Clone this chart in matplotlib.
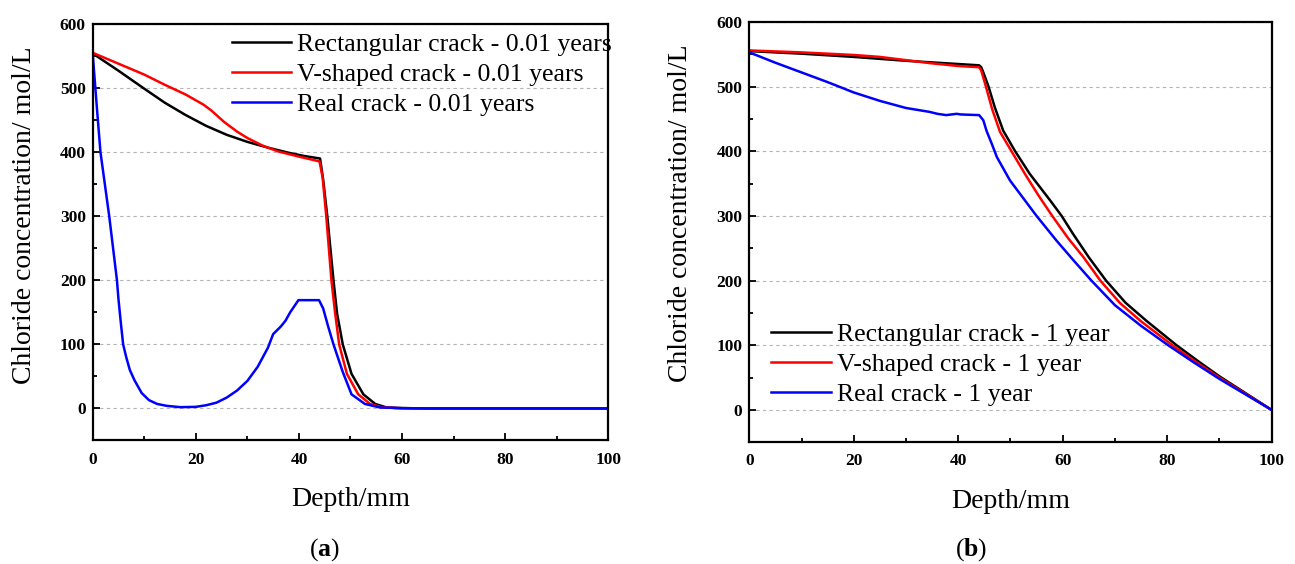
# -*- coding: utf-8 -*-
import matplotlib
matplotlib.use('Agg')
import matplotlib.pyplot as plt
from matplotlib.ticker import MultipleLocator

plt.rcParams['font.family'] = ['Liberation Serif', 'DejaVu Serif']
plt.rcParams['mathtext.fontset'] = 'custom'
plt.rcParams['mathtext.bf'] = 'Liberation Serif:bold'
plt.rcParams['mathtext.rm'] = 'Liberation Serif'

# --- (a) 0.01 years ---
rect_x_a = [0, 5, 10, 14, 18, 22, 26, 30, 34, 38, 41, 44.1, 44.7, 45.5, 46.7, 47.4, 48.5,
            50.2, 52.5, 54.8, 57, 60, 65, 100]
rect_y_a = [554, 527, 499, 477, 458, 441, 427, 416, 407, 399, 394, 390, 357, 300, 200, 148, 100,
            54, 22, 7, 1.5, 0.5, 0, 0]

v_x_a = [0, 5, 10, 14, 18, 21.5, 23, 25.5, 28, 30, 33, 36, 40, 44, 44.6, 45.3, 46.3, 47, 47.8,
         49.3, 51.5, 53.8, 56, 59, 65, 100]
v_y_a = [555, 538, 521, 505, 490, 474, 465, 447, 432, 422, 410, 401, 393, 385.5, 360, 300, 200,
         150, 100, 54, 22, 7, 2, 0.5, 0, 0]

real_x_a = [0, 0.8, 1.5, 3.2, 4.7, 5.0, 5.5, 5.9, 6.5, 7.2, 8.1, 9.5, 10.9, 12.5, 14.4, 17, 20,
            22, 24, 26, 28, 30, 32, 34, 35, 36.5, 37.4, 38.3, 39.9, 43.9, 44.7, 45.7, 46.7, 48.5,
            50.2, 52.8, 55.7, 60, 65, 100]
real_y_a = [553, 470, 400, 300, 200, 170, 130, 100, 80, 60, 44, 24, 13, 7, 4, 2, 2.5,
            5, 9, 17, 28, 43, 65, 95, 116, 128, 137, 150, 169, 169, 156, 127, 100, 57,
            22, 7, 1.5, 0.5, 0, 0]

# --- (b) 1 year ---
rect_x_b = [0, 10, 20, 30, 40, 44, 44.4, 44.8, 45.8, 47, 48.6, 50.9, 53.7, 57.6, 59.8, 62, 65,
            68.3, 72, 76, 81.8, 86, 90, 95, 100]
rect_y_b = [555, 551, 546, 540, 535, 533, 530, 522, 500, 468, 432, 400, 365, 324, 300, 272, 236,
            200, 166, 138, 100, 75, 52, 26, 0]

v_x_b = [0, 10, 20, 25, 30, 35, 40, 44, 44.4, 44.8, 45.3, 46.5, 48, 50.2, 53, 55.5, 58, 61, 64,
         67.2, 71, 75, 81, 85, 90, 95, 100]
v_y_b = [556, 553, 549, 546, 541, 536, 532, 530, 525, 514, 500, 465, 430, 400, 362, 330, 300,
         266, 236, 200, 165, 137, 100, 77, 50, 25, 0]

real_x_b = [0, 5, 10, 15, 20, 25, 30, 34.5, 36, 37.7, 39.7, 40.5, 44, 44.8, 45.4, 46.4, 47.4,
            49.9, 53.7, 55, 58.8, 62, 65.5, 70, 75, 80.2, 85, 90, 95, 100]
real_y_b = [553, 537, 522, 507, 491, 478, 467, 461, 458, 456, 458, 457, 456, 448, 432, 412, 391,
            355, 314, 300, 262, 232, 200, 162, 130, 100, 74, 48, 24, 0]

labels_a = ['Rectangular crack - 0.01 years', 'V-shaped crack - 0.01 years', 'Real crack - 0.01 years']
labels_b = ['Rectangular crack - 1 year', 'V-shaped crack - 1 year', 'Real crack - 1 year']
colors = ['black', '#ff0000', '#0000ff']


def style_axis(ax):
    ax.set_xlim(0, 100)
    ax.set_ylim(-50, 600)
    ax.xaxis.set_major_locator(MultipleLocator(20))
    ax.xaxis.set_minor_locator(MultipleLocator(10))
    ax.yaxis.set_major_locator(MultipleLocator(100))
    ax.yaxis.set_minor_locator(MultipleLocator(50))
    ax.tick_params(which='both', direction='in', top=False, right=False, width=1.3)
    ax.tick_params(which='major', length=5)
    ax.tick_params(which='minor', length=3)
    ax.tick_params(axis='x', pad=8)
    ax.tick_params(axis='y', pad=5)
    for lab in ax.get_xticklabels() + ax.get_yticklabels():
        lab.set_fontsize(12.5)
        lab.set_fontweight('bold')
    for sp in ax.spines.values():
        sp.set_linewidth(1.6)
    ax.yaxis.grid(True, color='#b4b4b4', linestyle=(0, (3, 3)), linewidth=0.8)
    ax.set_axisbelow(True)
    ax.set_xlabel('Depth/mm', fontsize=20)
    ax.set_ylabel('Chloride concentration/ mol/L', fontsize=20)
    ax.xaxis.set_label_coords(0.5, -0.112)


fig = plt.figure(figsize=(12.95, 5.64), dpi=100)
ax1 = fig.add_axes([0.0716, 0.2190, 0.3981, 0.7385])
ax2 = fig.add_axes([0.5786, 0.2158, 0.4034, 0.7452])

for xs, ys, c, lab in zip([rect_x_a, v_x_a, real_x_a], [rect_y_a, v_y_a, real_y_a], colors, labels_a):
    ax1.plot(xs, ys, color=c, lw=1.8, label=lab)
for xs, ys, c, lab in zip([rect_x_b, v_x_b, real_x_b], [rect_y_b, v_y_b, real_y_b], colors, labels_b):
    ax2.plot(xs, ys, color=c, lw=1.8, label=lab)

style_axis(ax1)
style_axis(ax2)
ax1.yaxis.set_label_coords(-0.108, 0.541)
ax2.yaxis.set_label_coords(-0.108, 0.544)

leg_kw = dict(frameon=False, fontsize=18.5, handlelength=2.3, handletextpad=0.25,
              labelspacing=0.28, borderpad=0, borderaxespad=0, loc='upper left')
ax1.legend(bbox_to_anchor=(0.270, 0.978), **leg_kw)
ax2.legend(bbox_to_anchor=(0.0425, 0.284), **leg_kw)

fig.text(324 / 1295, 1 - 550 / 564, r'($\mathbf{a}$)', fontsize=18.5, ha='center', va='center')
fig.text(971 / 1295, 1 - 550 / 564, r'($\mathbf{b}$)', fontsize=18.5, ha='center', va='center')

fig.savefig('out.png', dpi=100)
